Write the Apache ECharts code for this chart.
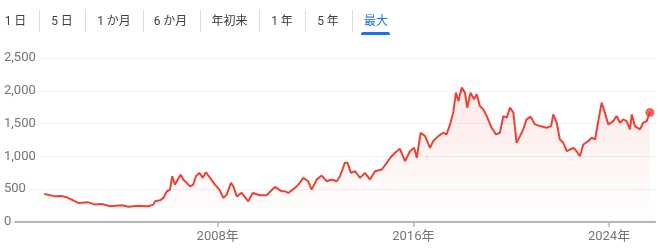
<!DOCTYPE html>
<html>
<head>
<meta charset="utf-8">
<script src="https://cdn.jsdelivr.net/npm/echarts@6/dist/echarts.min.js"></script>
<style>
html,body{margin:0;padding:0;background:#fff;}
#chart{width:663px;height:248px;}
</style>
</head>
<body>
<div id="chart"></div>
<script>
// Time in decimal years, price values
const years = [
  2000.91, 2000.98, 2001.14, 2001.35, 2001.59, 2001.83, 2002.03, 2002.30, 2002.71, 2002.98,
  2003.26, 2003.60, 2004.08, 2004.35, 2004.75, 2005.16, 2005.37, 2005.44, 2005.52, 2005.64,
  2005.78, 2005.92, 2006.05, 2006.14, 2006.25, 2006.32, 2006.49, 2006.59, 2006.73, 2006.87,
  2007.00, 2007.11, 2007.25, 2007.39, 2007.52, 2007.69, 2007.89, 2008.07, 2008.23, 2008.37,
  2008.54, 2008.64, 2008.78, 2008.98, 2009.25, 2009.43, 2009.73, 2010.00, 2010.34, 2010.62,
  2010.75, 2010.89, 2011.16, 2011.30, 2011.50, 2011.70, 2011.84, 2012.05, 2012.25, 2012.46,
  2012.66, 2012.87, 2013.00, 2013.20, 2013.31, 2013.45, 2013.61, 2013.82, 2014.02, 2014.23,
  2014.43, 2014.71, 2014.91, 2015.11, 2015.25, 2015.45, 2015.66, 2015.86, 2016.03, 2016.14,
  2016.30, 2016.48, 2016.68, 2016.81, 2017.02, 2017.22, 2017.36, 2017.50, 2017.63, 2017.74,
  2017.84, 2017.98, 2018.11, 2018.20, 2018.34, 2018.48, 2018.59, 2018.72, 2018.86, 2019.00,
  2019.20, 2019.38, 2019.54, 2019.68, 2019.82, 2019.95, 2020.09, 2020.22, 2020.36, 2020.49,
  2020.63, 2020.80, 2020.97, 2021.18, 2021.45, 2021.63, 2021.72, 2021.86, 2021.99, 2022.13,
  2022.27, 2022.40, 2022.54, 2022.68, 2022.81, 2022.95, 2023.15, 2023.29, 2023.43, 2023.56,
  2023.70, 2023.83, 2023.97, 2024.17, 2024.31, 2024.45, 2024.58, 2024.72, 2024.86, 2024.93,
  2025.06, 2025.26, 2025.40, 2025.54, 2025.67
];
const prices = [
  428, 455, 410, 391, 395, 376, 341, 290, 300, 265,
  275, 239, 254, 234, 249, 239, 265, 315, 300, 330,
  367, 468, 494, 697, 570, 544, 723, 647, 596, 544,
  570, 697, 749, 673, 758, 673, 570, 494, 367, 417,
  596, 544, 391, 443, 315, 443, 407, 407, 535, 468,
  468, 443, 520, 570, 673, 621, 494, 647, 708, 621,
  647, 621, 697, 902, 902, 749, 774, 673, 749, 647,
  774, 800, 902, 1003, 1055, 1116, 927, 1079, 1131, 979,
  1361, 1309, 1131, 1232, 1309, 1361, 1335, 1488, 1667, 1972,
  1844, 2049, 1972, 1743, 1972, 1870, 1946, 1768, 1717, 1615,
  1437, 1335, 1361, 1615, 1590, 1743, 1667, 1208, 1309, 1411,
  1564, 1605, 1488, 1462, 1437, 1462, 1641, 1514, 1258, 1208,
  1079, 1105, 1131, 1079, 1003, 1182, 1232, 1284, 1258, 1538,
  1819, 1667, 1488, 1538, 1615, 1514, 1564, 1538, 1411, 1641,
  1462, 1411, 1514, 1538, 1670
];
const tickYears = [2008, 2016, 2024];
const yTicks = [0, 500, 1000, 1500, 2000, 2500];
const tabLabels = ['1 日', '5 日', '1 か月', '6 か月', '年初来', '1 年', '5 年', '最大'];

const tabCenters = [15.5, 62, 114, 170.5, 229.5, 282, 328, 376];
const sepXs = [39.5, 85.5, 143.5, 200.5, 259.5, 305.5, 352.5];
const FONT = 'Roboto, Arial, "Noto Sans CJK JP", sans-serif';

const lineData = years.map((y, i) => [y, prices[i]]);
const last = lineData[lineData.length - 1];

const graphics = [];
tabLabels.forEach((t, i) => {
  const active = i === tabLabels.length - 1;
  graphics.push({
    type: 'text', left: null, x: tabCenters[i], y: 21.5, silent: true,
    style: { text: t, fill: active ? '#1a73e8' : '#3c4043', font: '12px ' + FONT, align: 'center', verticalAlign: 'middle' }
  });
});
sepXs.forEach(x => {
  graphics.push({ type: 'line', silent: true, shape: { x1: x, y1: 10, x2: x, y2: 32 }, style: { stroke: '#dadce0', lineWidth: 1 } });
});
graphics.push({ type: 'rect', silent: true, shape: { x: 361, y: 32, width: 29, height: 3, r: [2, 2, 0, 0] }, style: { fill: '#1a73e8' } });

const chart = echarts.init(document.getElementById('chart'), null, { renderer: 'canvas' });
chart.setOption({
  animation: false,
  backgroundColor: '#fff',
  textStyle: { fontFamily: FONT },
  graphic: graphics,
  grid: { left: 12, right: 8, top: 58, bottom: 26, containLabel: false },
  xAxis: {
    type: 'value',
    min: 1999.59,
    max: 2025.88,
    axisLine: { show: true, lineStyle: { color: '#b3b5ba', width: 2 } },
    axisTick: { show: true, customValues: tickYears, length: 5, lineStyle: { color: '#b3b5ba', width: 1.5 } },
    axisLabel: { customValues: tickYears, formatter: v => v + '年', color: '#70757a', fontSize: 13, margin: 8, fontFamily: FONT },
    splitLine: { show: false }
  },
  yAxis: {
    type: 'value',
    min: 0,
    max: 2500,
    interval: 500,
    axisLine: { show: false },
    axisTick: { show: false },
    axisLabel: {
      inside: true, margin: -8, color: '#70757a', fontSize: 13, fontFamily: FONT,
      backgroundColor: '#fff', padding: [1, 3, 1, 0],
      formatter: v => v.toLocaleString('en-US')
    },
    splitLine: { show: true, lineStyle: { color: '#f1f3f4', width: 1 } }
  },
  series: [
    {
      type: 'line',
      data: lineData,
      showSymbol: false,
      lineStyle: { color: '#ea4335', width: 2 },
      itemStyle: { color: '#ea4335' },
      areaStyle: {
        color: new echarts.graphic.LinearGradient(0, 0, 0, 1, [
          { offset: 0, color: 'rgba(234,67,53,0.17)' },
          { offset: 1, color: 'rgba(234,67,53,0.0)' }
        ])
      }
    },
    {
      type: 'scatter',
      data: [last],
      symbolSize: 9,
      itemStyle: { color: '#ea4335' },
      z: 3
    }
  ]
});
</script>
</body>
</html>
